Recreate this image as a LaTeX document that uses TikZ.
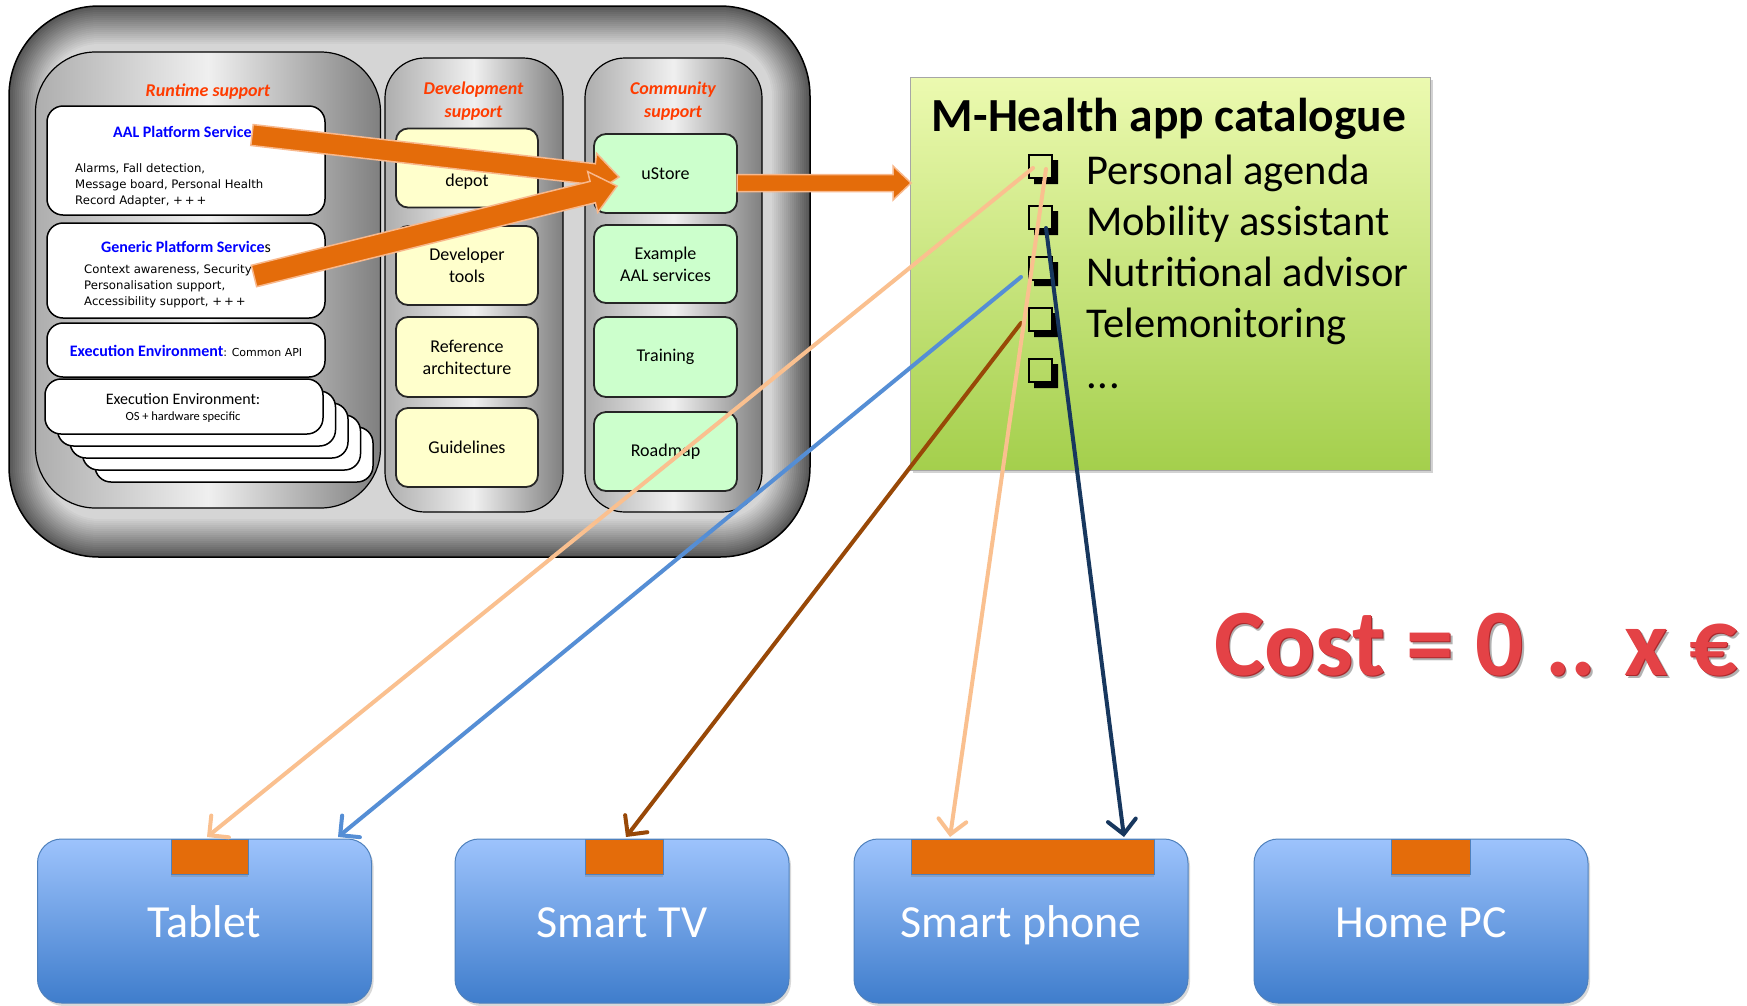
\documentclass[tikz,border=0pt]{standalone}
\usepackage{fontspec}
\setmainfont{Carlito}
\newfontfamily\dejavu{DejaVu Sans}
\usetikzlibrary{calc,arrows.meta,shadows}
\definecolor{orng}{RGB}{228,108,10}
\definecolor{orngl}{RGB}{248,184,140}
\definecolor{rtred}{RGB}{255,60,0}
\definecolor{ablue}{RGB}{0,0,255}
\definecolor{yel}{RGB}{255,255,204}
\definecolor{grn}{RGB}{204,255,204}
\definecolor{cattop}{RGB}{236,250,176}
\definecolor{catbot}{RGB}{164,207,76}
\definecolor{devtop}{RGB}{157,195,252}
\definecolor{devbot}{RGB}{63,125,204}
\definecolor{devedge}{RGB}{79,129,189}
\definecolor{peach}{RGB}{250,192,143}
\definecolor{lblue}{RGB}{85,142,213}
\definecolor{brwn}{RGB}{152,72,7}
\definecolor{navy}{RGB}{23,55,94}
\definecolor{costred}{RGB}{228,66,70}
\definecolor{costdark}{RGB}{170,40,44}
\newcommand\mychk[2]{%
  \begin{scope}[shift={(#1,#2)}]
    \fill[black] (23,5) -- (29,5) -- (29,29) -- (5,29) -- (5,23) -- (23,23) -- cycle;
    \draw[black, line width=2.6pt] (0,0) rectangle (23,23);
  \end{scope}}
\newcommand\myblockarrow[5]{%
  \coordinate (tmpC) at ($(#2)!#4!(#1)$);
  \filldraw[fill=orng, draw=orngl, line width=1.5pt, line join=miter]
    ($(#1)!#3!90:(#2)$) -- ($(tmpC)!#3!90:(#2)$) -- ($(tmpC)!#5!90:(#2)$) -- (#2)
    -- ($(tmpC)!#5!-90:(#2)$) -- ($(tmpC)!#3!-90:(#2)$) -- ($(#1)!#3!-90:(#2)$) -- cycle;}
\begin{document}
\begin{tikzpicture}[x=1pt,y=-1pt,
  panel/.style={draw=black, line width=1.2pt, left color=black!32, right color=black!50, middle color=black!6, inner sep=0pt},
  wbox/.style={draw=black, line width=1.5pt, fill=white, rounded corners=16pt, minimum width=278pt, inner sep=0pt},
  ybox/.style={draw=black!85, line width=1.8pt, fill=yel, rounded corners=12pt, minimum width=142pt, minimum height=79pt, inner sep=0pt, align=center, font=\fontsize{18}{22}\selectfont},
  gbox/.style={ybox, fill=grn, minimum width=143pt},
  ptitle/.style={text=rtred, font=\bfseries\itshape\fontsize{18}{23}\selectfont, align=center, inner sep=0pt},
  btitle/.style={text=ablue, font=\bfseries\fontsize{16}{18}\selectfont, inner sep=0pt},
  body/.style={font=\dejavu\fontsize{11.7}{16}\selectfont, align=left, inner sep=0pt, anchor=north west},
  dev/.style={draw=devedge, line width=1pt, top color=devtop, bottom color=devbot, rounded corners=24pt, minimum width=334pt, minimum height=164pt, inner sep=0pt, drop shadow={opacity=0.3, shadow xshift=2pt, shadow yshift=-3pt}},
  devtext/.style={text=white, font=\fontsize{46}{50}\selectfont, inner sep=0pt, anchor=base},
  tabbox/.style={fill=orng, draw=devedge, line width=0.8pt, minimum height=35pt, inner sep=0pt, drop shadow={opacity=0.35, shadow xshift=0pt, shadow yshift=-3pt}},
  wire/.style={line width=4pt, line cap=round, -{Straight Barb[length=14pt,width=28pt,line cap=round]}},
  item/.style={anchor=base west, inner sep=0pt, font=\fontsize{42.5}{44}\selectfont}
]
\useasboundingbox (0,0) rectangle (1747,1005);
\fill[white] (0,0) rectangle (1747,1005);

% outer frame with stepped gradient
\foreach \k in {0,1,2,3,4,5,6,7,8,9,10,11,12,13,14,15,16,17,18,19}{
  \pgfmathsetmacro\d{2*\k}
  \pgfmathsetmacro\p{66-2.6*\k}
  \pgfmathsetlengthmacro\r{(90-2*\k)*1pt}
  \fill[black!\p, rounded corners=\r] (9+\d,6+\d) rectangle (810-\d,557-\d);
}
\draw[black, line width=1.5pt, rounded corners=90pt] (9,6) rectangle (810,557);

% panels
\node[panel, rounded corners=60pt, minimum width=345pt, minimum height=456pt] (runtime) at (208,280) {};
\node[panel, rounded corners=40pt, minimum width=178pt, minimum height=454pt] (devp) at (474,285) {};
\node[panel, rounded corners=40pt, minimum width=177pt, minimum height=454pt] (comp) at (673.5,285) {};

\node[ptitle, anchor=base] (rtt) at (208,96) {Runtime support};
\node[ptitle] (devt) at (473.5,101) {Development\\support};
\node[ptitle] (comt) at (673,101) {Community\\support};

% runtime boxes
\node[wbox, minimum height=109pt] (aal) at (186,160.5) {};
\node[btitle, anchor=base west] (aalt) at (113,137) {AAL Platform Service};
\node[body] (aalb) at (75,163) {Alarms, Fall detection,\\Message board, Personal Health\\Record Adapter, +\,+\,+};

\node[wbox, minimum height=95pt] (gen) at (186,270.5) {};
\node[btitle, anchor=base] (gent) at (186,252) {Generic Platform Service{\color{black}\mdseries s}};
\node[body] (genb) at (84,264.5) {Context awareness, Security\\Personalisation support,\\Accessibility support, +\,+\,+};

\node[wbox, minimum height=54pt] (api) at (186,350) {};
\node[inner sep=0pt, anchor=base] (apit) at (186,356) {{\color{ablue}\bfseries\fontsize{16}{18}\selectfont Execution Environment}{\dejavu\fontsize{11}{13}\selectfont: Common API}};

\foreach \k in {4,3,2,1}{
  \node[wbox, minimum height=55pt] (os\k) at (184+12.5*\k,406.5+12*\k) {};
}
\node[wbox, minimum height=55pt] (os) at (184,406.5) {};
\node[inner sep=0pt, anchor=base, font=\fontsize{16}{18}\selectfont] (ost1) at (183,404) {Execution Environment:};
\node[inner sep=0pt, anchor=base, font=\fontsize{12.5}{14}\selectfont] (ost2) at (183,420) {OS + hardware specific};

% development boxes
\node[ybox] (depot) at (467,168) {};
\node[inner sep=0pt, font=\fontsize{18}{22}\selectfont] (depott) at (467,182) {depot};
\node[ybox] (tools) at (467,265.5) {Developer\\tools};
\node[ybox, minimum height=80pt] (refa) at (467,357) {Reference\\architecture};
\node[ybox] (guide) at (467,447.5) {Guidelines};

% community boxes
\node[gbox] (ustore) at (665.5,173.5) {uStore};
\node[gbox, minimum height=78pt] (example) at (665.5,264) {Example\\AAL services};
\node[gbox, minimum height=80pt] (training) at (665.5,357) {Training};
\node[gbox] (roadmap) at (665.5,451.5) {Roadmap};

% catalogue
\node[draw=black!35, line width=1pt, top color=cattop, bottom color=catbot, minimum width=520pt, minimum height=393pt, inner sep=0pt, drop shadow={opacity=0.35, shadow xshift=3pt, shadow yshift=-3pt}] (cat) at (1170,273.5) {};
\node[anchor=base, inner sep=0pt, font=\bfseries\fontsize{47.5}{50}\selectfont] (catt) at (1169,131) {M-Health app catalogue};
\foreach \i/\t in {0/Personal agenda,1/Mobility assistant,2/Nutritional advisor,3/Telemonitoring}{
  \mychk{1029}{155+51*\i}
  \node[item] (it\i) at (1086,184+51*\i) {\t};
}
\mychk{1029}{359}
\node[item] (it4) at (1086,388) {.\kern1pt.\kern1pt.};

% Cost
\node[anchor=base west, inner sep=0pt, text=black!30, font=\bfseries\fontsize{95}{100}\selectfont] (costsh) at (1216.5,678) {Cost = 0 .. x €};
\node[anchor=base west, inner sep=0pt, text=costdark, font=\bfseries\fontsize{95}{100}\selectfont] (costed) at (1215,676) {Cost = 0 .. x €};
\node[anchor=base west, inner sep=0pt, text=costred, font=\bfseries\fontsize{95}{100}\selectfont] (cost) at (1214,675) {Cost = 0 .. x €};

% devices
\node[dev] (tablet) at (204.5,921) {};
\node[dev] (tv) at (622,921) {};
\node[dev] (phone) at (1021,921) {};
\node[dev] (pc) at (1421,921) {};
\node[tabbox, minimum width=77pt] (tabA) at (209.5,856.5) {};
\node[tabbox, minimum width=78pt] (tabB) at (624,856.5) {};
\node[tabbox, minimum width=243pt] (tabC) at (1032.5,856.5) {};
\node[tabbox, minimum width=79pt] (tabD) at (1430.5,856.5) {};
\node[devtext] (tablett) at (204.5,937) {Tablet};
\node[devtext] (tvt) at (622,937) {Smart TV};
\node[devtext] (phonet) at (1021,937) {Smart phone};
\node[devtext] (pct) at (1421,937) {Home PC};

% big orange arrows
\coordinate (a1s) at (252,135);
\coordinate (a1e) at (619,177);
\coordinate (a2s) at (254,276);
\coordinate (a2e) at (617,186);
\coordinate (a3s) at (737,183);
\coordinate (a3e) at (911,183);
\myblockarrow{a1s}{a1e}{10.5pt}{25pt}{21pt}
\myblockarrow{a2s}{a2e}{11pt}{25pt}{21pt}
\myblockarrow{a3s}{a3e}{8.5pt}{18pt}{17pt}

% thin arrows from catalogue to devices
\coordinate (p1s) at (1033,168);
\coordinate (p1e) at (207,837);
\coordinate (p2s) at (1046,169);
\coordinate (p2e) at (950,837);
\coordinate (bls) at (1021,277);
\coordinate (ble) at (338,837);
\coordinate (brs) at (1021,323);
\coordinate (bre) at (626,837);
\coordinate (nvs) at (1046,228);
\coordinate (nve) at (1124,837);
\draw[wire, peach] (p1s) -- (p1e);
\draw[wire, lblue] (bls) -- (ble);
\draw[wire, brwn] (brs) -- (bre);
\draw[wire, peach] (p2s) -- (p2e);
\draw[wire, navy] (nvs) -- (nve);
\end{tikzpicture}
\end{document}
